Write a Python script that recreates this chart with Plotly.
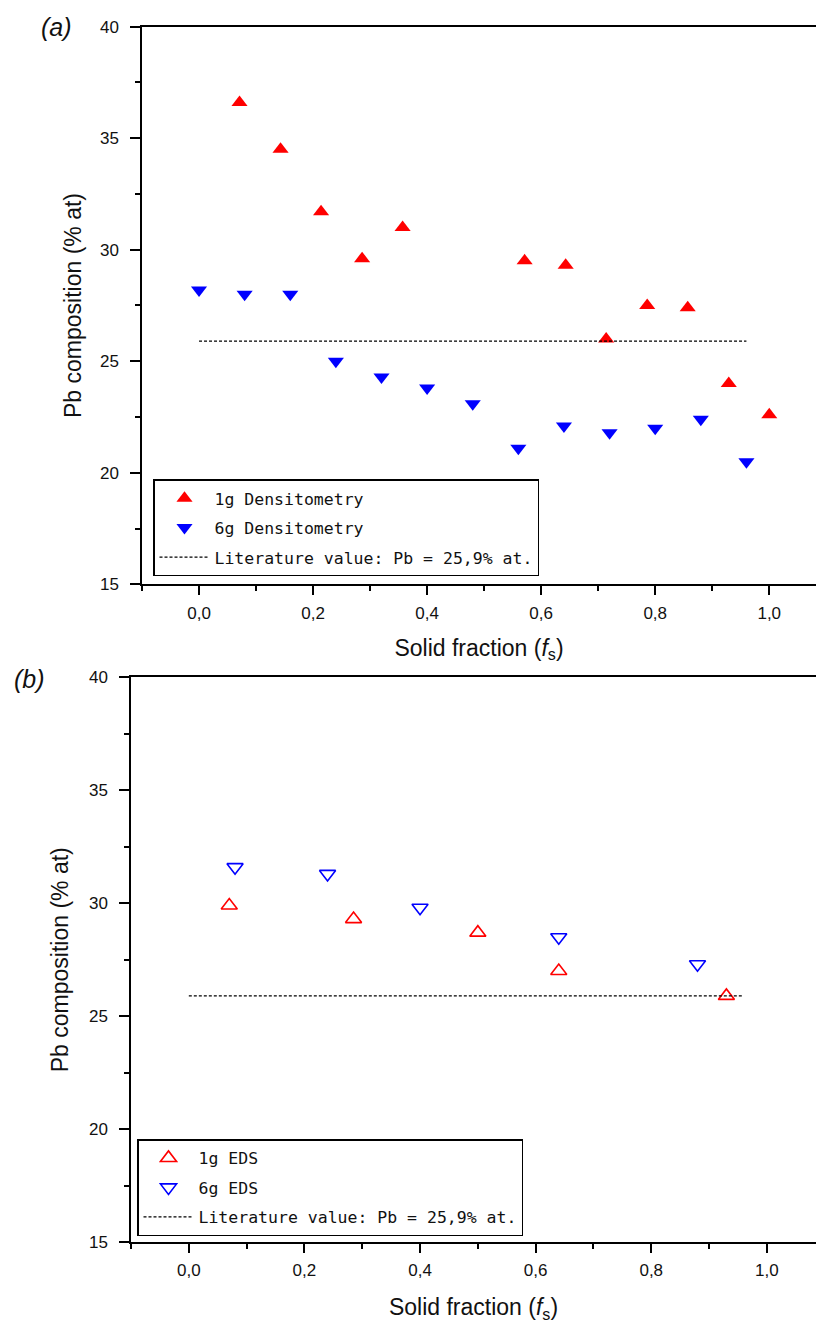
import plotly.graph_objects as go

# ---------------- data ----------------
# Panel (a): densitometry
dens_1g_x = [0.071, 0.143, 0.214, 0.286, 0.357, 0.571, 0.643, 0.714, 0.786, 0.857, 0.929, 1.0]
dens_1g_y = [36.6, 34.5, 31.7, 29.6, 31.0, 29.5, 29.3, 26.0, 27.5, 27.4, 24.0, 22.6]
dens_6g_x = [0.0, 0.08, 0.16, 0.24, 0.32, 0.40, 0.48, 0.56, 0.64, 0.72, 0.80, 0.88, 0.96]
dens_6g_y = [28.2, 28.0, 28.0, 25.0, 24.3, 23.8, 23.1, 21.1, 22.1, 21.8, 22.0, 22.4, 20.5]
# Panel (b): EDS
eds_1g_x = [0.07, 0.285, 0.50, 0.64, 0.93]
eds_1g_y = [29.9, 29.3, 28.7, 27.0, 25.9]
eds_6g_x = [0.08, 0.24, 0.40, 0.64, 0.88]
eds_6g_y = [31.6, 31.3, 29.8, 28.5, 27.3]
# Literature value line
lit_x = [0.0, 0.96]
lit_y = [25.9, 25.9]

names_a = ["1g Densitometry", "6g Densitometry", "Literature value: Pb = 25,9% at."]
names_b = ["1g EDS", "6g EDS", "Literature value: Pb = 25,9% at."]

FONT = "Liberation Sans"
LEGFONT = "DejaVu Sans Mono"
RED = "#ff0000"
BLUE = "#0000ff"

fig = go.Figure()

# ---- panel (a) traces
fig.add_trace(go.Scatter(x=dens_1g_x, y=dens_1g_y, mode="markers", name=names_a[0],
                         marker=dict(symbol="triangle-up", size=14, color=RED),
                         xaxis="x", yaxis="y", legend="legend", legendgroup="a1"))
fig.add_trace(go.Scatter(x=dens_6g_x, y=dens_6g_y, mode="markers", name=names_a[1],
                         marker=dict(symbol="triangle-down", size=14, color=BLUE),
                         xaxis="x", yaxis="y", legend="legend", legendgroup="a2"))
fig.add_trace(go.Scatter(x=lit_x, y=lit_y, mode="lines", name=names_a[2],
                         line=dict(color="black", width=1.3, dash="3px,2px"),
                         xaxis="x", yaxis="y", legend="legend", legendgroup="a3"))

# ---- panel (b) traces
fig.add_trace(go.Scatter(x=eds_1g_x, y=eds_1g_y, mode="markers", name=names_b[0],
                         marker=dict(symbol="triangle-up-open", size=14, color=RED,
                                     line=dict(width=1.6, color=RED)),
                         xaxis="x2", yaxis="y2", legend="legend2", legendgroup="b1"))
fig.add_trace(go.Scatter(x=eds_6g_x, y=eds_6g_y, mode="markers", name=names_b[1],
                         marker=dict(symbol="triangle-down-open", size=14, color=BLUE,
                                     line=dict(width=1.6, color=BLUE)),
                         xaxis="x2", yaxis="y2", legend="legend2", legendgroup="b2"))
fig.add_trace(go.Scatter(x=lit_x, y=lit_y, mode="lines", name=names_b[2],
                         line=dict(color="black", width=1.3, dash="3px,2px"),
                         xaxis="x2", yaxis="y2", legend="legend2", legendgroup="b3"))

tickfont = dict(family=FONT, size=17, color="#111")
titlefont = dict(family=FONT, size=23, color="#111")

XR_A = [-0.1, 1.082]
XR_B = [-0.1, 1.085]
YR = [15, 40]


def xbottom(domain, rng, anchor, standoff):
    return dict(domain=domain, range=rng, anchor=anchor, showgrid=False, zeroline=False,
                showline=True, linecolor="black", linewidth=1.5, mirror=True,
                tickmode="linear", tick0=0, dtick=0.2, tickformat=".1f",
                ticks="outside", ticklen=9, tickwidth=1.5, tickcolor="black",
                ticklabelstandoff=3, tickfont=tickfont,
                minor=dict(tick0=0, dtick=0.1, ticks="outside", ticklen=5,
                           tickwidth=1.5, tickcolor="black", showgrid=False),
                title=dict(text="Solid fraction (<i>f</i><sub>s</sub>)", font=titlefont,
                           standoff=standoff))


def xtop(overlay, rng, anchor):
    return dict(overlaying=overlay, side="top", range=rng, anchor=anchor,
                showgrid=False, zeroline=False, showline=False, showticklabels=False,
                tickmode="linear", tick0=0, dtick=0.2,
                ticks="inside", ticklen=9, tickwidth=1.5, tickcolor="black",
                minor=dict(tick0=0, dtick=0.1, ticks="inside", ticklen=5,
                           tickwidth=1.5, tickcolor="black", showgrid=False))


def yleft(domain, anchor, standoff):
    return dict(domain=domain, range=YR, anchor=anchor, showgrid=False, zeroline=False,
                showline=True, linecolor="black", linewidth=1.5, mirror=False,
                tickmode="linear", tick0=15, dtick=5,
                ticks="outside", ticklen=10, tickwidth=1.5, tickcolor="black",
                ticklabelstandoff=8, tickfont=tickfont,
                minor=dict(tick0=15, dtick=2.5, ticks="outside", ticklen=5,
                           tickwidth=1.5, tickcolor="black", showgrid=False),
                title=dict(text="Pb composition (% at)", font=titlefont, standoff=standoff))


def yright(overlay, anchor):
    return dict(overlaying=overlay, side="right", range=YR, anchor=anchor,
                showgrid=False, zeroline=False, showline=False, showticklabels=False,
                tickmode="linear", tick0=15, dtick=5,
                ticks="inside", ticklen=3, tickwidth=1.5, tickcolor="black")


H = 1325.0
W = 816.0


def yp(px):
    # vertical position on the page -> paper fraction (calibrated to the page capture)
    return 1 - ((px - 9.4) / 0.986) / H


dom_xa = [142 / W, 1.0]
dom_ya = [yp(585), yp(27)]
dom_xb = [131 / W, 1.0]
dom_yb = [yp(1243), yp(678)]

legend_common = dict(bgcolor="white", bordercolor="black", borderwidth=1.5,
                     font=dict(family=LEGFONT, size=16.5, color="#111"),
                     xanchor="left", yanchor="top", tracegroupgap=5,
                     itemwidth=50, itemsizing="trace")

fig.update_layout(
    width=816, height=1325,
    margin=dict(l=0, r=0, t=0, b=0),
    paper_bgcolor="white", plot_bgcolor="white",
    separators=",.",
    font=dict(family=FONT, color="#111"),
    xaxis=xbottom(dom_xa, XR_A, "y", 18),
    yaxis=yleft(dom_ya, "x", 12),
    xaxis5=xtop("x", XR_A, "y"),
    yaxis5=yright("y", "x"),
    xaxis2=xbottom(dom_xb, XR_B, "y2", 20),
    yaxis2=yleft(dom_yb, "x2", 14),
    xaxis6=xtop("x2", XR_B, "y2"),
    yaxis6=yright("y2", "x2"),
    legend=dict(x=153 / W, y=yp(480), **legend_common),
    legend2=dict(x=137 / W, y=yp(1140), **legend_common),
    annotations=[
        dict(text="(a)", x=56 / W, y=yp(27), xref="paper", yref="paper",
             xanchor="center", yanchor="middle", showarrow=False,
             font=dict(family="Liberation Sans", size=25, color="#111", style="italic")),
        dict(text="(b)", x=29 / W, y=yp(680), xref="paper", yref="paper",
             xanchor="center", yanchor="middle", showarrow=False,
             font=dict(family="Liberation Sans", size=25, color="#111", style="italic")),
    ],
)

page_css = (
    "var s=document.createElement('style');"
    "s.textContent='html,body{margin:0;padding:0;overflow:hidden}';"
    "document.head.appendChild(s);"
)

fig.write_html("out.html", post_script=page_css, config={"displayModeBar": False})
